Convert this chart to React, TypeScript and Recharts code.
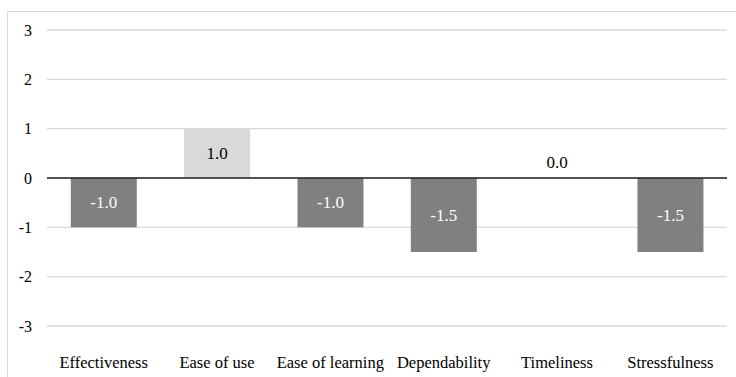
import { Bar, CartesianGrid, Cell, ComposedChart, LabelList, Line, ReferenceLine, XAxis, YAxis } from 'recharts'

// Mean score per attribute
const categories = ['Effectiveness', 'Ease of use', 'Ease of learning', 'Dependability', 'Timeliness', 'Stressfulness']
const scores = [-1.0, 1.0, -1.0, -1.5, 0.0, -1.5]
const yTicks = [-3, -2, -1, 0, 1, 2, 3]

const data = categories.map((name, i) => ({ name, score: scores[i] }))

const font = "'Liberation Serif', 'Times New Roman', serif"

// label in the middle of each non-zero bar
const BarLabel = (props: any) => {
  const { x, y, width, height, value } = props
  if (Number(value) === 0) return null
  const cx = Number(x) + Number(width) / 2
  const cy = Number(y) + (Number(height) || 0) / 2
  return (
    <text
      x={cx}
      y={cy}
      textAnchor='middle'
      dominantBaseline='central'
      fontFamily={font}
      fontSize={17}
      fill={value < 0 ? '#ffffff' : '#000000'}
    >
      {Number(value).toFixed(1)}
    </text>
  )
}

// zero-height bars get their label just above the axis
const ZeroLabel = (props: any) => {
  const { x, y, value } = props
  if (Number(value) !== 0) return null
  return (
    <text
      x={x}
      y={Number(y) - 16}
      textAnchor='middle'
      dominantBaseline='central'
      fontFamily={font}
      fontSize={17}
      fill='#000000'
    >
      {Number(value).toFixed(1)}
    </text>
  )
}

export default function App() {
  return (
    <div style={{ position: 'absolute', left: 0, top: 0, width: 736, height: 377, background: '#fff', overflow: 'hidden' }}>
      <div
        style={{
          position: 'absolute',
          left: 7,
          top: 11,
          width: 760,
          height: 400,
          border: '1px solid #d9d9d9',
        }}
      />
      <div style={{ position: 'absolute', left: 0, top: 0 }}>
        <ComposedChart
          width={736}
          height={377}
          data={data}
          margin={{ top: 30, right: 9, bottom: 11, left: 7 }}
          barCategoryGap='21%'
        >
          <CartesianGrid vertical={false} stroke='#d9d9d9' strokeWidth={1.3} />
          <XAxis
            dataKey='name'
            axisLine={false}
            tickLine={false}
            height={40}
            tickMargin={24}
            interval={0}
            tick={{ fill: '#000', fontSize: 16.5, fontFamily: font }}
          />
          <YAxis
            domain={[-3, 3]}
            ticks={yTicks}
            width={40}
            axisLine={false}
            tickLine={false}
            tickMargin={9}
            tick={{ fill: '#000', fontSize: 16, fontFamily: font }}
          />
          <Bar dataKey='score' isAnimationActive={false}>
            {data.map((d) => (
              <Cell key={d.name} fill={d.score < 0 ? '#808080' : '#d9d9d9'} />
            ))}
            <LabelList dataKey='score' content={BarLabel} />
          </Bar>
          <Line
            dataKey='score'
            stroke='none'
            dot={false}
            activeDot={false}
            isAnimationActive={false}
          >
            <LabelList dataKey='score' content={ZeroLabel} />
          </Line>
          <ReferenceLine y={0} stroke='#222' strokeWidth={1.3} />
        </ComposedChart>
      </div>
    </div>
  )
}
